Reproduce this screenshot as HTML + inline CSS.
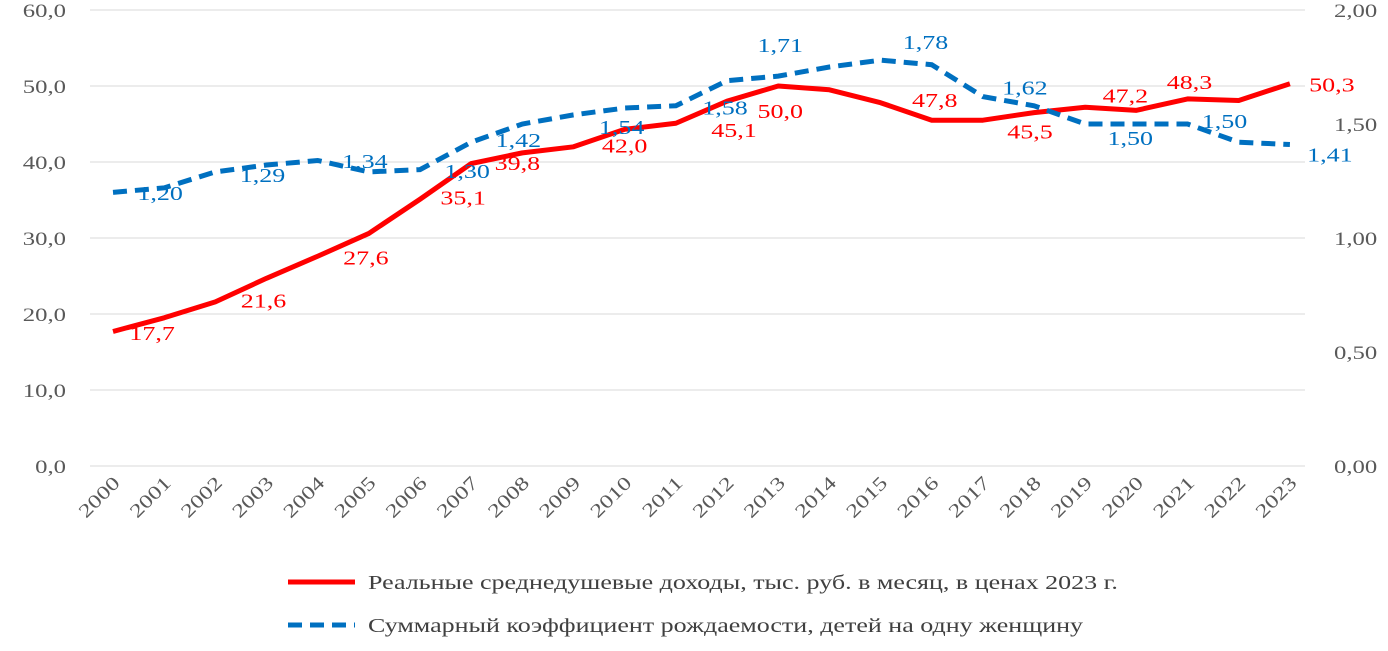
<!DOCTYPE html>
<html><head><meta charset="utf-8"><style>
body{margin:0;background:#fff;}
svg{display:block;font-family:"Liberation Serif",serif;}
</style></head><body>
<svg id="chart" width="1388" height="651" viewBox="0 0 1388 651"></svg>
<script>
const years=["2000","2001","2002","2003","2004","2005","2006","2007","2008","2009","2010","2011","2012","2013","2014","2015","2016","2017","2018","2019","2020","2021","2022","2023"];
const income=[17.7,19.5,21.6,24.7,27.6,30.6,35.1,39.8,41.2,42.0,44.3,45.1,48.0,50.0,49.5,47.8,45.5,45.5,46.5,47.2,46.8,48.3,48.1,50.3];
const fertility=[1.20,1.22,1.29,1.32,1.34,1.29,1.30,1.42,1.50,1.54,1.57,1.58,1.69,1.71,1.75,1.78,1.76,1.62,1.58,1.50,1.50,1.50,1.42,1.41];
const leftTicks=[0,10,20,30,40,50,60];
const rightTicks=[0,0.5,1.0,1.5,2.0];
const incomeLabelIdx=[1,3,5,7,8,10,12,13,16,18,20,21,23];
const incomeLabelText=["17,7","21,6","27,6","35,1","39,8","42,0","45,1","50,0","47,8","45,5","47,2","48,3","50,3"];
const incomeLabelDx=[-12,-3,-3,-8,-5,0,7,2,3,-4,-11,2,42];
const incomeLabelDy=[15,22,24,34,10,16,29,25,-20,19,-15,-17,1];
const fertLabelIdx=[1,3,5,7,8,10,12,13,15,17,19,21,23];
const fertLabelText=["1,20","1,29","1,34","1,30","1,42","1,54","1,58","1,71","1,78","1,62","1,50","1,50","1,41"];
const fertLabelDx=[-4,-4,-4,-4,-4,-3,-2,2,45,42,45,37,40];
const fertLabelDy=[5,10,-11,29,16,19,27,-31,-18,-9,14,-3,10];

const NS="http://www.w3.org/2000/svg";
const svg=document.getElementById('chart');
const X0=113,DX=51.17,Y0=466,YTOP=10,STRETCH=1.3;
const xs=i=>X0+DX*i;
const yL=v=>Y0-(Y0-YTOP)*v/60;
const yR=v=>Y0-(Y0-YTOP)*v/2;
function el(t,a,txt){const e=document.createElementNS(NS,t);for(const k in a)e.setAttribute(k,a[k]);if(txt!==undefined)e.textContent=txt;svg.appendChild(e);
  if(t==='text'){const w=e.getComputedTextLength();if(w>0){e.setAttribute('textLength',w*STRETCH);e.setAttribute('lengthAdjust','spacingAndGlyphs');}}
  return e;}
const fmt=(v,d)=>v.toFixed(d).replace('.',',');

leftTicks.forEach(v=>{
  const g=el('line',{x1:90,x2:1305,y1:yL(v),y2:yL(v),stroke:'#d9d9d9','stroke-width':1});
  
  
  const t=el('text',{x:66,y:yL(v)+7,'text-anchor':'end','font-size':19,fill:'#595959'},fmt(v,1));
  
  
});
rightTicks.forEach(v=>{
  const t=el('text',{x:1334,y:yR(v)+7,'font-size':19,fill:'#595959'},fmt(v,2));
  
  
});
years.forEach((y,i)=>{
  const t=el('text',{x:xs(i)+8,y:484,'text-anchor':'end','font-size':19,fill:'#595959',transform:`rotate(-45 ${xs(i)+8} 484)`},y);
  
  
});
const rp=el('polyline',{points:income.map((v,i)=>xs(i)+','+yL(v)).join(' '),fill:'none',stroke:'#ff0000','stroke-width':5,'stroke-linejoin':'round'});


const bp=el('polyline',{points:fertility.map((v,i)=>xs(i)+','+yR(v)).join(' '),fill:'none',stroke:'#0070c0','stroke-width':5,'stroke-dasharray':'14 8'});


incomeLabelIdx.forEach((idx,k)=>{
  const t=el('text',{x:xs(idx)+incomeLabelDx[k],y:yL(income[idx])+incomeLabelDy[k]+7,'text-anchor':'middle','font-size':20,fill:'#ff0000'},incomeLabelText[k]);
  
  
});
fertLabelIdx.forEach((idx,k)=>{
  const t=el('text',{x:xs(idx)+fertLabelDx[k],y:yR(fertility[idx])+fertLabelDy[k]+7,'text-anchor':'middle','font-size':20,fill:'#0070c0'},fertLabelText[k]);
  
  
});
const l1=el('line',{x1:288,x2:355,y1:582,y2:582,stroke:'#ff0000','stroke-width':5});


const t1=el('text',{x:368,y:589,'font-size':20,fill:'#404040'},'Реальные среднедушевые доходы, тыс. руб. в месяц, в ценах  2023 г.');


const l2=el('line',{x1:288,x2:355,y1:625,y2:625,stroke:'#0070c0','stroke-width':5,'stroke-dasharray':'14 8'});


const t2=el('text',{x:368,y:632,'font-size':20,fill:'#404040'},'Суммарный коэффициент  рождаемости, детей на одну женщину');


</script>
</body></html>
